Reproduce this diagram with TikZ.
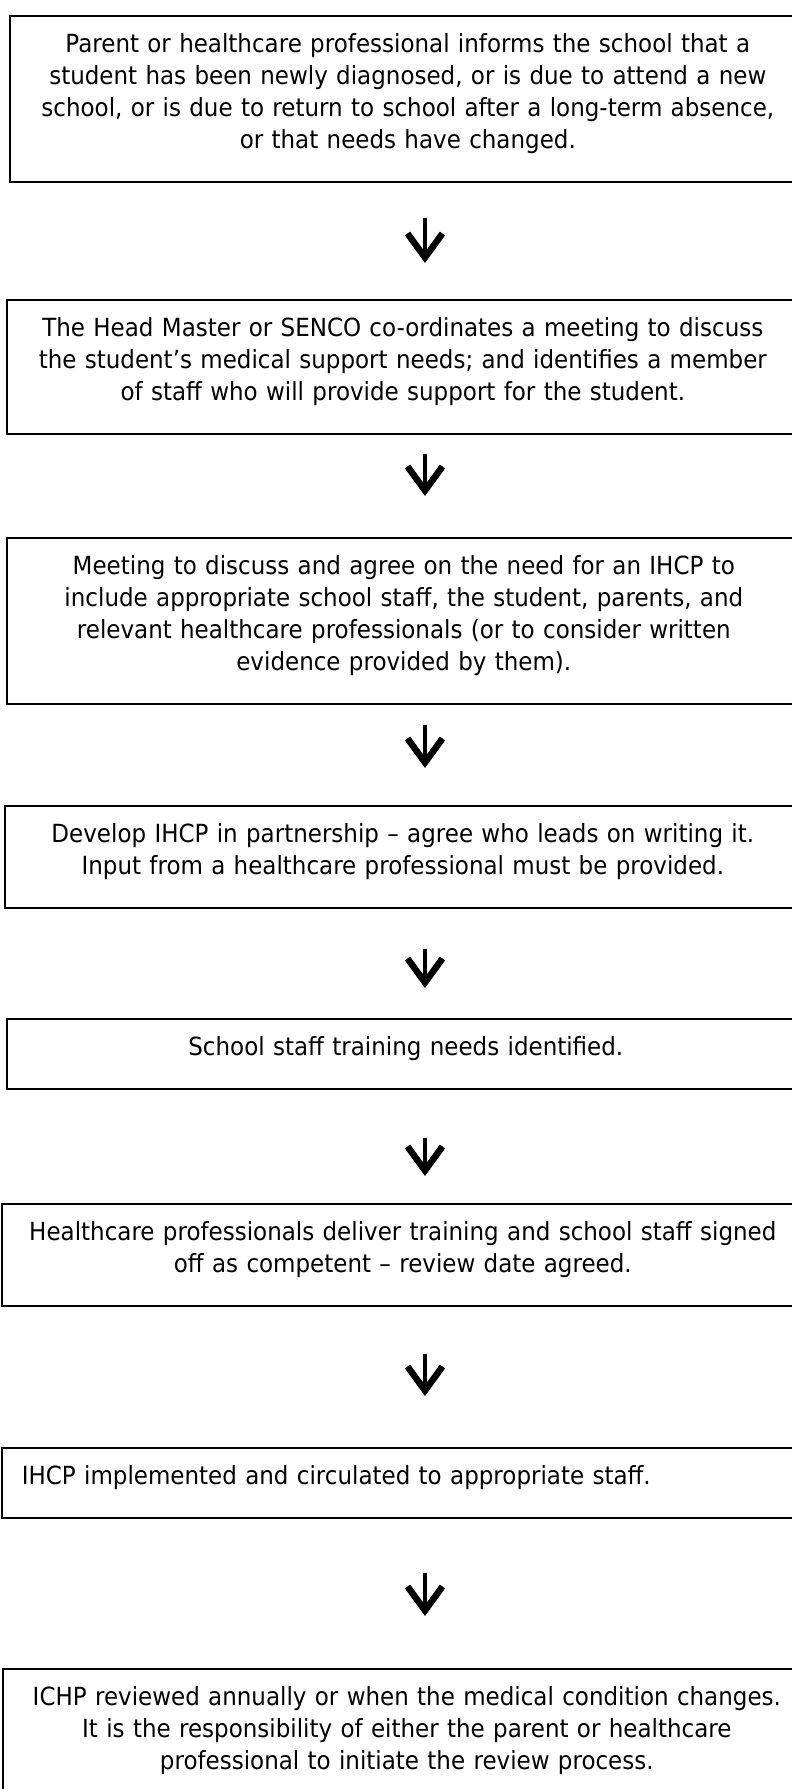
\documentclass[tikz,border=0pt]{standalone}
\usepackage{fontspec}
\setmainfont{DejaVu Sans}[FakeStretch=0.92]
\usetikzlibrary{arrows.meta}

\begin{document}
\begin{tikzpicture}[x=1pt,y=-1pt,
    box/.style={draw,line width=1.6pt,anchor=north west,inner xsep=20pt,inner ysep=14pt,
      text width=#1,align=center,font=\fontsize{25}{32}\selectfont,
      execute at begin node=\rule{0pt}{23pt},
      execute at end node=\rule[-19pt]{0pt}{0pt}},
    flow/.style={line width=4.5pt,-{Straight Barb[length=24pt,width=35pt,line width=6.5pt]}}]

  \useasboundingbox (0,0) rectangle (792,1789);
  \clip (0,0) rectangle (792,1789);

  \coordinate (ax) at (425,0);

  \node[box=756pt] (b1) at (9,15) {Parent or healthcare professional informs the school that a\\
    student has been newly diagnosed, or is due to attend a new\\
    school, or is due to return to school after a long-term absence,\\
    or that needs have changed.};
  \node[box=752pt] (b2) at (6,299) {The Head Master or SENCO co-ordinates a meeting to discuss\\
    the student’s medical support needs; and identifies a member\\
    of staff who will provide support for the student.};
  \node[box=754pt] (b3) at (6,537) {Meeting to discuss and agree on the need for an IHCP to\\
    include appropriate school staff, the student, parents, and\\
    relevant healthcare professionals (or to consider written\\
    evidence provided by them).};
  \node[box=756pt] (b4) at (4,805) {Develop IHCP in partnership -- agree who leads on writing it.\\
    Input from a healthcare professional must be provided.};
  \node[box=758pt] (b5) at (6,1018) {School staff training needs identified.};
  \node[box=762pt] (b6) at (1,1203) {Healthcare professionals deliver training and school staff signed\\
    off as competent -- review date agreed.};
  \node[box=762pt,align=left] (b7) at (1,1447) {IHCP implemented and circulated to appropriate staff.};
  \node[box=768pt] (b8) at (2,1668) {ICHP reviewed annually or when the medical condition changes.\\
    It is the responsibility of either the parent or healthcare\\
    professional to initiate the review process.};

  % arrows sit off centre, gaps differ between steps
  \foreach \a/\b/\s/\e in {b1/b2/35/36, b2/b3/19/41, b3/b4/20/37, b4/b5/40/30,
      b5/b6/48/27, b6/b7/47/51, b7/b8/54/52}
    \draw[flow,shorten <=\s pt,shorten >=\e pt] (\a.south -| ax) -- (\b.north -| ax);

\end{tikzpicture}
\end{document}
